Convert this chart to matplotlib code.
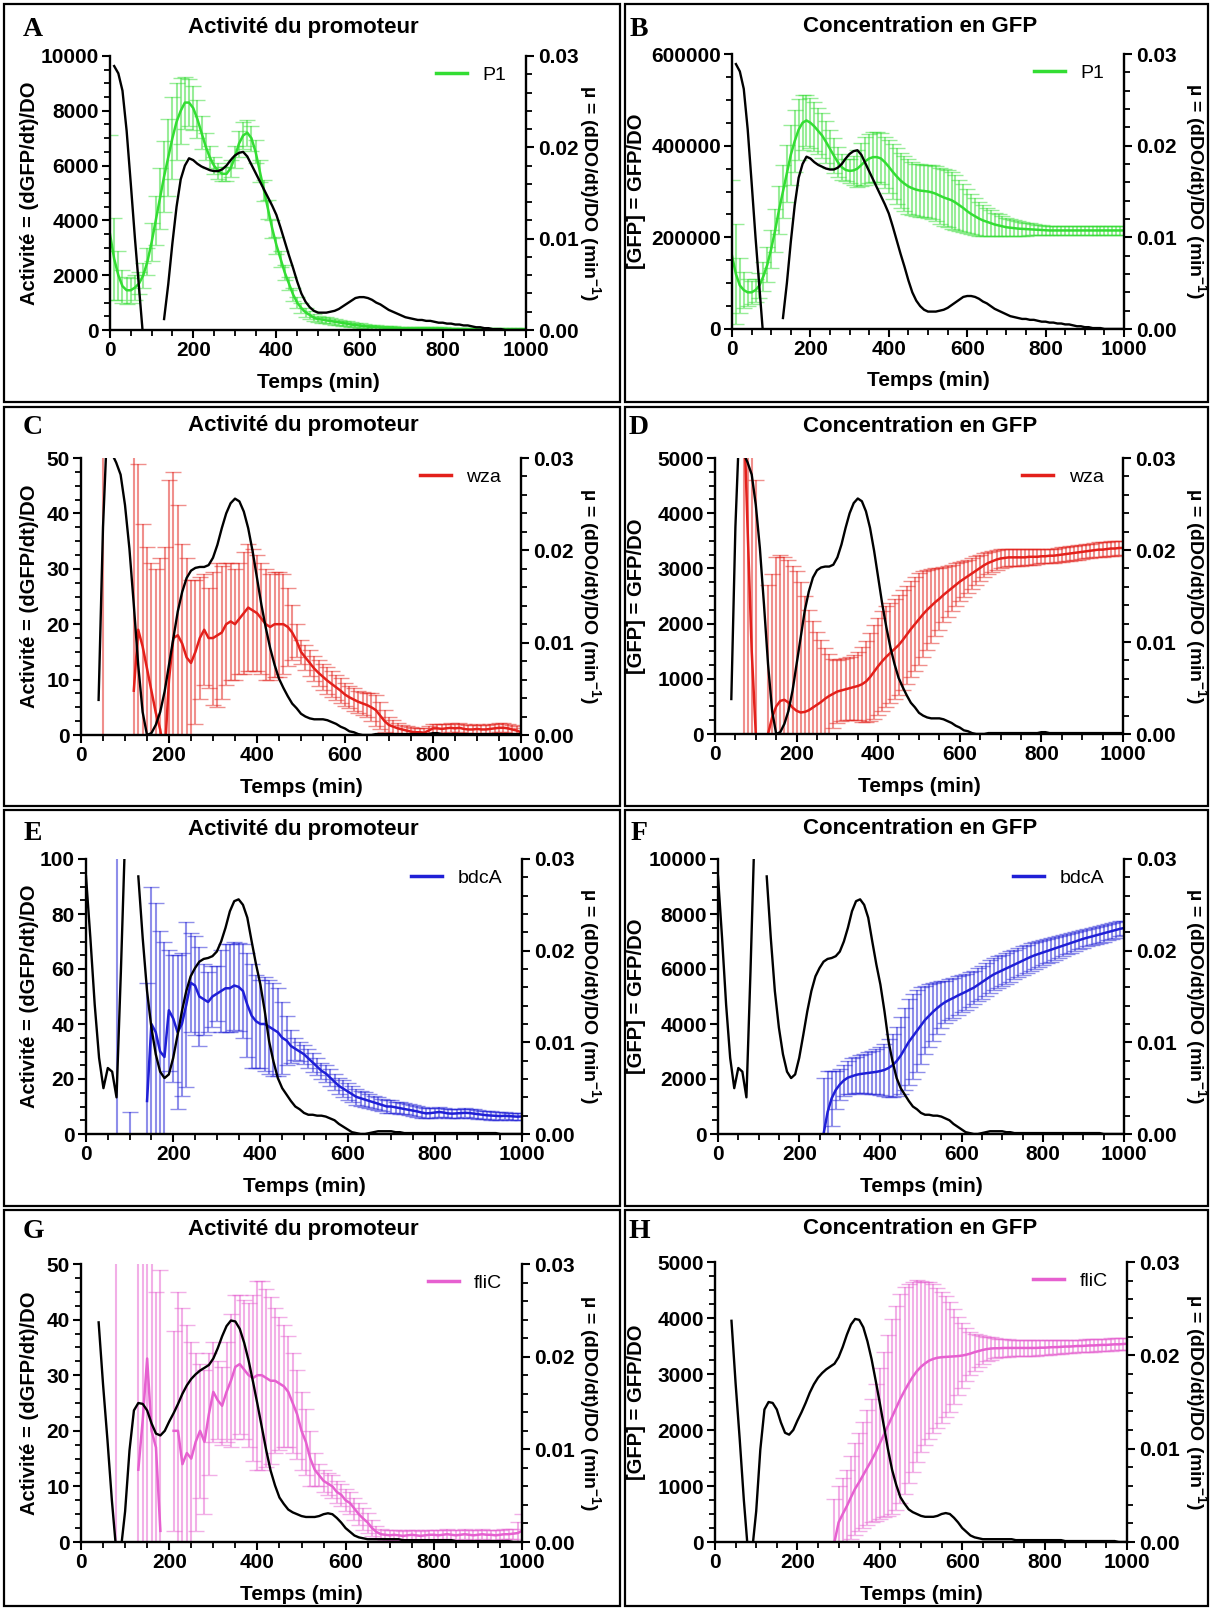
import numpy as np
import matplotlib
matplotlib.use('Agg')
import matplotlib.pyplot as plt
from matplotlib.lines import Line2D
from matplotlib.patches import Rectangle
from matplotlib.ticker import MultipleLocator, FuncFormatter
from matplotlib.colors import to_rgba

plt.rcParams['font.family'] = ['Liberation Sans', 'DejaVu Sans']
plt.rcParams['font.weight'] = 'bold'
plt.rcParams['mathtext.fontset'] = 'custom'
plt.rcParams['mathtext.rm'] = 'Liberation Sans:bold'
plt.rcParams['mathtext.bf'] = 'Liberation Sans:bold'

nan = np.nan
# time grid (min), one reading every 10 min
t = np.arange(0, 1010, 10)

# ---- P1 (panels A, B)
mu_p1 = [
    nan, 0.0289, 0.0281, 0.0262, 0.0218, 0.0160, 0.0100, 0.0045, -0.0010, nan,
    nan, nan, nan, 0.0012, 0.0050, 0.0095, 0.0135, 0.0165, 0.0180, 0.0188,
    0.0186, 0.0182, 0.0179, 0.0177, 0.0175, 0.0174, 0.0174, 0.0176, 0.0180, 0.0186,
    0.0191, 0.0194, 0.0195, 0.0190, 0.0181, 0.0172, 0.0163, 0.0154, 0.0145, 0.0136,
    0.0126, 0.0112, 0.0097, 0.0082, 0.0068, 0.0053, 0.0040, 0.0031, 0.0025, 0.0021,
    0.0019, 0.0019, 0.0019, 0.0020, 0.0021, 0.0023, 0.0026, 0.0029, 0.0032, 0.0035,
    0.0036, 0.0036, 0.0035, 0.0033, 0.0030, 0.0028, 0.0025, 0.0022, 0.0020, 0.0018,
    0.0016, 0.0014, 0.0013, 0.0012, 0.0011, 0.0011, 0.0010, 0.0010, 0.0009, 0.0008,
    0.0008, 0.0007, 0.0007, 0.0006, 0.0006, 0.0005, 0.0005, 0.0004, 0.0003, 0.0003,
    0.0002, 0.0002, 0.0001, 0.0001, 0.0001, 0.0, 0.0, 0.0, 0.0, 0.0,
    0.0]
act_p1 = [
    3500, 2600, 2000, 1600, 1450, 1450, 1550, 1700, 2000, 2500,
    3200, 4000, 4800, 5600, 6300, 7000, 7600, 8000, 8300, 8300,
    8100, 7700, 7200, 6700, 6300, 6000, 5800, 5700, 5700, 5900,
    6300, 6800, 7100, 7200, 7000, 6500, 5800, 5100, 4400, 3700,
    3100, 2600, 2100, 1700, 1300, 1000, 800, 650, 550, 450,
    400, 380, 350, 330, 300, 280, 250, 230, 200, 180,
    160, 140, 120, 110, 100, 90, 80, 75, 70, 65,
    60, 58, 55, 52, 50, 48, 46, 44, 42, 40,
    38, 36, 35, 34, 33, 32, 31, 30, 29, 28,
    27, 26, 25, 24, 23, 22, 21, 20, 20, 20,
    20]
act_p1_sd = [
    3600, 1500, 900, 600, 500, 450, 450, 400, 450, 500,
    700, 900, 1100, 1300, 1400, 1500, 1400, 1200, 950, 870,
    800, 700, 600, 500, 400, 320, 280, 250, 250, 300,
    400, 480, 500, 480, 450, 420, 400, 380, 350, 330,
    310, 290, 270, 250, 230, 210, 190, 170, 150, 130,
    120, 110, 110, 100, 100, 100, 95, 90, 90, 85,
    85, 80, 80, 75, 75, 70, 70, 65, 65, 60,
    60, 55, 55, 55, 55, 55, 55, 55, 55, 55,
    55, 55, 55, 55, 55, 55, 55, 55, 55, 55,
    55, 55, 55, 55, 55, 55, 55, 55, 55, 55,
    50]
gfp_p1 = [
    160000, 120000, 95000, 85000, 80000, 80000, 85000, 95000, 115000, 140000,
    175000, 215000, 260000, 300000, 340000, 380000, 410000, 435000, 450000, 455000,
    450000, 442000, 432000, 422000, 408000, 393000, 378000, 364000, 353000, 347000,
    345000, 346000, 350000, 358000, 366000, 372000, 375000, 375000, 372000, 364000,
    354000, 343000, 333000, 324000, 317000, 311000, 307000, 304000, 302000, 301000,
    300000, 298000, 295000, 291000, 287000, 284000, 281000, 276000, 270000, 264000,
    257000, 251000, 246000, 241000, 237000, 234000, 231000, 228000, 226000, 224000,
    222000, 221000, 220000, 219000, 218500, 218000, 217500, 217000, 216500, 216000,
    215500, 215000, 215000, 215000, 215000, 215000, 215000, 215000, 215000, 215000,
    215000, 215000, 215000, 215000, 215000, 215000, 215000, 215000, 215000, 215000,
    215000]
gfp_p1_sd = [
    165000, 110000, 60000, 40000, 30000, 25000, 25000, 28000, 32000, 38000,
    42000, 47000, 52000, 57000, 62000, 66000, 68000, 66000, 60000, 56000,
    54000, 53000, 51000, 49000, 46000, 42000, 38000, 33000, 28000, 25000,
    26000, 32000, 40000, 47000, 52000, 54000, 55000, 55000, 55000, 56000,
    58000, 60000, 61000, 61000, 60000, 59000, 58000, 57000, 57000, 57000,
    58000, 59000, 60000, 61000, 62000, 62000, 62000, 60000, 56000, 52000,
    48000, 44000, 40000, 37000, 34000, 31000, 28000, 26000, 24000, 22000,
    20000, 18000, 17000, 16000, 15000, 14000, 13000, 12000, 11500, 11000,
    10000, 10000, 10000, 10000, 10000, 10000, 10000, 10000, 10000, 10000,
    10000, 10000, 10000, 10000, 10000, 10000, 10000, 10000, 10000, 10000,
    10000]

# ---- wza (panels C, D)
mu_wza = [
    nan, nan, nan, nan, 0.0038, 0.0225, 0.0340, 0.0305, 0.0295, 0.0282,
    0.0249, 0.0202, 0.0141, 0.0076, 0.0025, 0.0000, 0.0002, 0.0011, 0.0025, 0.0047,
    0.0076, 0.0105, 0.0134, 0.0155, 0.0170, 0.0178, 0.0181, 0.0182, 0.0182, 0.0184,
    0.0192, 0.0206, 0.0224, 0.0240, 0.0251, 0.0256, 0.0253, 0.0242, 0.0224, 0.0199,
    0.0170, 0.0141, 0.0116, 0.0094, 0.0076, 0.0061, 0.0051, 0.0042, 0.0034, 0.0029,
    0.0023, 0.0020, 0.0018, 0.0017, 0.0017, 0.0017, 0.0016, 0.0014, 0.0012, 0.0009,
    0.0007, 0.0004, 0.0003, 0.0001, 0.0000, 0.0000, 0.0000, 0.0001, 0.0001, 0.0001,
    0.0001, 0.0001, 0.0001, 0.0001, 0.0001, 0.0001, 0.0001, 0.0001, 0.0001, 0.0001,
    0.0002, 0.0002, 0.0001, 0.0001, 0.0001, 0.0001, 0.0001, 0.0001, 0.0001, 0.0001,
    0.0001, 0.0001, 0.0001, 0.0001, 0.0001, 0.0001, 0.0001, 0.0001, 0.0001, 0.0001,
    0.0001]
act_wza = [
    nan, nan, nan, nan, nan, 30, nan, nan, nan, nan,
    nan, nan, 8, 19, 16, 12, 8, 4, 1, -4,
    10, 17.5, 18, 16.5, 14, 13, 15, 17.5, 19, 17.5,
    17.5, 18, 18.5, 20, 20.5, 20, 21, 22, 23, 22.5,
    22, 21, 20, 19.5, 20, 20, 20, 19.5, 18.5, 17,
    15, 14, 13, 12, 11.2, 10.5, 9.8, 9.2, 8.6, 8,
    7.3, 6.8, 6.4, 6, 5.7, 5.4, 5, 4.5, 3.5, 2.5,
    1.8, 1.5, 1.2, 1, 0.8, 0.6, 0.5, 0.5, 0.4, 0.8,
    1.2, 1.2, 1.1, 1.2, 1.3, 1.2, 1.3, 1.1, 1.0, 1.0,
    1.1, 1.0, 1.0, 1.1, 1.2, 1.3, 1.3, 1.2, 1.0, 0.8,
    0.5]
act_wza_sd = [
    nan, nan, nan, nan, nan, 40, nan, nan, nan, nan,
    nan, nan, 45, 30, 22, 22, 23, 26, 31, 38,
    36, 30, 23.5, 18, 18, 15, 13, 11, 10, 9,
    12, 13, 12, 11, 10.5, 10, 10, 11, 11.5, 11,
    10.5, 10, 10, 9.5, 9.5, 9.5, 9, 7, 5, 3,
    2.2, 2.2, 2.3, 2.3, 2.4, 2.4, 2.4, 2.4, 2.3, 2.2,
    2, 2, 2, 2, 2, 2.2, 2.5, 2.8, 2.5, 2,
    1.5, 1.2, 1, 0.8, 0.8, 0.8, 0.8, 0.8, 0.8, 0.8,
    0.8, 0.8, 0.8, 0.8, 0.8, 0.8, 0.8, 0.8, 0.8, 0.8,
    0.8, 0.8, 0.8, 0.8, 0.8, 0.8, 0.8, 0.8, 0.8, 0.8,
    0.8]
gfp_wza = [
    nan, nan, nan, nan, nan, nan, nan, 6000, 3700, 1500,
    0, nan, nan, 0, 300, 500, 600, 620, 570, 480,
    420, 390, 400, 430, 480, 530, 580, 640, 690, 730,
    770, 790, 810, 830, 850, 870, 900, 950, 1030, 1130,
    1230, 1320, 1400, 1470, 1540, 1610, 1700, 1800, 1900, 1990,
    2080, 2170, 2250, 2320, 2390, 2450, 2520, 2580, 2640, 2700,
    2760, 2810, 2860, 2910, 2960, 3010, 3060, 3100, 3130, 3160,
    3180, 3190, 3200, 3200, 3200, 3200, 3200, 3210, 3210, 3210,
    3220, 3220, 3230, 3230, 3240, 3250, 3260, 3270, 3280, 3290,
    3300, 3310, 3320, 3330, 3340, 3340, 3350, 3360, 3360, 3370,
    3370]
gfp_wza_sd = [
    nan, nan, nan, nan, nan, nan, nan, 6000, 5000, 4500,
    4600, nan, nan, 2700, 2600, 2700, 2650, 2580, 2580, 2570,
    2530, 2360, 2100, 1820, 1570, 1320, 1120, 910, 760, 620,
    570, 560, 560, 570, 590, 620, 680, 740, 800, 850,
    880, 900, 910, 910, 910, 900, 900, 890, 870, 850,
    830, 780, 720, 670, 620, 560, 500, 460, 420, 390,
    350, 320, 300, 280, 260, 240, 220, 200, 190, 180,
    170, 165, 160, 155, 150, 150, 145, 140, 140, 135,
    130, 130, 130, 130, 130, 130, 130, 130, 130, 130,
    130, 130, 130, 130, 130, 130, 130, 130, 130, 130,
    130]

# ---- bdcA (panels E, F)
mu_bdca = [
    0.0281, 0.0214, 0.0141, 0.0083, 0.0050, 0.0072, 0.0068, 0.0040, 0.0177, 0.0330,
    nan, nan, 0.0281, 0.0214, 0.0156, 0.0116, 0.0087, 0.0068, 0.0061, 0.0065,
    0.0083, 0.0108, 0.0134, 0.0156, 0.0172, 0.0181, 0.0188, 0.0191, 0.0192, 0.0194,
    0.0199, 0.0210, 0.0225, 0.0243, 0.0254, 0.0256, 0.0250, 0.0236, 0.0210, 0.0185,
    0.0163, 0.0134, 0.0101, 0.0079, 0.0061, 0.0050, 0.0043, 0.0036, 0.0030, 0.0027,
    0.0023, 0.0021, 0.0021, 0.0020, 0.0020, 0.0019, 0.0017, 0.0015, 0.0011, 0.0008,
    0.0005, 0.0002, 0.0001, 0.0000, 0.0000, 0.0001, 0.0002, 0.0003, 0.0003, 0.0003,
    0.0003, 0.0002, 0.0002, 0.0001, 0.0001, 0.0001, 0.0001, 0.0001, 0.0001, 0.0001,
    0.0001, 0.0001, 0.0001, 0.0001, 0.0001, 0.0001, 0.0001, 0.0001, 0.0001, 0.0001,
    0.0001, 0.0001, 0.0001, 0.0001, 0.0001, 0.0000, 0.0000, 0.0000, 0.0000, 0.0000,
    0.0000]
act_bdca = [
    nan, nan, nan, nan, nan, nan, nan, 50, nan, nan,
    -40, nan, nan, nan, 12, 40, 37, 30, 28, 45,
    42, 37, 40, 47, 55, 54, 50, 49, 48, 50,
    51, 52, 53, 53, 54, 53.5, 52, 47, 43, 41,
    40, 40, 39, 38, 37, 35, 34, 32, 31, 30,
    29, 27.5, 26, 24.5, 23, 22, 20.5, 19, 17.5, 16.5,
    15.5, 14.5, 13.5, 13, 12.5, 12, 11.5, 11, 10.5, 10,
    10, 9.7, 9.4, 9.1, 8.8, 8.5, 8.2, 7.8, 7.5, 7.6,
    7.8, 8, 7.8, 7.5, 7.4, 7.5, 7.6, 7.7, 7.6, 7.4,
    7.2, 7, 6.8, 6.7, 6.6, 6.5, 6.6, 6.5, 6.4, 6.3,
    6.4]
act_bdca_sd = [
    nan, nan, nan, nan, nan, nan, nan, 80, nan, nan,
    48, nan, nan, nan, 43, 50, 47, 44, 42, 22,
    23, 28, 26, 30, 18, 18, 18, 13, 11, 11,
    10, 15, 16, 16, 16, 16, 17, 19, 19, 17,
    16, 17, 17, 17, 16, 13, 9, 6, 4, 3.5,
    3.5, 3.5, 3.5, 3, 3, 3, 3, 3, 3, 3,
    3, 2.8, 2.8, 2.7, 2.6, 2.5, 2.5, 2.4, 2.3, 2.2,
    2.2, 2.1, 2.1, 2, 2, 2, 1.9, 1.9, 1.8, 1.8,
    1.8, 1.8, 1.7, 1.7, 1.7, 1.6, 1.6, 1.6, 1.6, 1.6,
    1.6, 1.5, 1.5, 1.5, 1.4, 1.4, 1.3, 1.3, 1.3, 1.2,
    1.2]
gfp_bdca = [
    nan, nan, nan, nan, nan, nan, nan, nan, nan, nan,
    nan, nan, nan, nan, nan, nan, nan, nan, nan, nan,
    nan, nan, nan, nan, nan, nan, 0, 800, 1300, 1600,
    1800, 1950, 2050, 2100, 2150, 2180, 2200, 2220, 2240, 2260,
    2290, 2330, 2400, 2500, 2650, 2850, 3100, 3350, 3550, 3750,
    3950, 4150, 4300, 4450, 4580, 4700, 4800, 4880, 4950, 5030,
    5100, 5170, 5250, 5320, 5420, 5520, 5620, 5720, 5810, 5880,
    5950, 6020, 6090, 6160, 6230, 6300, 6370, 6440, 6500, 6550,
    6600, 6650, 6700, 6750, 6800, 6850, 6900, 6950, 7000, 7050,
    7100, 7140, 7180, 7220, 7260, 7300, 7340, 7380, 7420, 7460,
    7490]
gfp_bdca_sd = [
    nan, nan, nan, nan, nan, nan, nan, nan, nan, nan,
    nan, nan, nan, nan, nan, nan, nan, nan, nan, nan,
    nan, nan, nan, nan, nan, nan, 2050, 1500, 1000, 700,
    550, 550, 600, 650, 650, 700, 720, 750, 780, 820,
    880, 950, 1050, 1150, 1250, 1400, 1500, 1550, 1550, 1500,
    1400, 1250, 1150, 1050, 950, 850, 780, 740, 720, 700,
    680, 650, 630, 600, 600, 600, 600, 600, 590, 580,
    570, 560, 550, 540, 530, 520, 510, 500, 490, 480,
    450, 440, 430, 420, 410, 380, 370, 360, 350, 340,
    330, 320, 310, 305, 300, 300, 290, 285, 280, 275,
    270]

# ---- fliC (panels G, H)
mu_flic = [
    nan, nan, nan, nan, 0.0237, 0.0170, 0.0110, 0.0045, -0.0010, -0.0010,
    0.0033, 0.0099, 0.0142, 0.0150, 0.0149, 0.0142, 0.0128, 0.0117, 0.0115, 0.0120,
    0.0130, 0.0139, 0.0149, 0.0160, 0.0169, 0.0176, 0.0181, 0.0185, 0.0188, 0.0191,
    0.0198, 0.0209, 0.0222, 0.0233, 0.0239, 0.0238, 0.0230, 0.0215, 0.0196, 0.0173,
    0.0149, 0.0124, 0.0099, 0.0077, 0.0061, 0.0048, 0.0041, 0.0035, 0.0032, 0.0030,
    0.0028, 0.0027, 0.0027, 0.0027, 0.0028, 0.0030, 0.0031, 0.0030, 0.0026, 0.0021,
    0.0015, 0.0011, 0.0007, 0.0005, 0.0004, 0.0003, 0.0003, 0.0003, 0.0003, 0.0003,
    0.0003, 0.0003, 0.0003, 0.0002, 0.0002, 0.0002, 0.0002, 0.0002, 0.0002, 0.0002,
    0.0002, 0.0002, 0.0002, 0.0002, 0.0002, 0.0001, 0.0001, 0.0001, 0.0001, 0.0001,
    0.0001, 0.0001, 0.0001, 0.0001, 0.0001, 0.0001, 0.0001, 0.0001, 0.0000, 0.0000,
    0.0000]
act_flic = [
    nan, nan, nan, nan, nan, nan, nan, nan, 17, nan,
    nan, nan, nan, 13, 22, 33, 20, 17, 2, nan,
    nan, 20, 20, 14, 16, 15, 18, 20, 18, 23,
    27, 25.5, 24.5, 27, 29, 31.5, 32, 31, 30, 29.5,
    30, 30, 29.5, 29, 29, 28.5, 28, 27, 25, 23,
    20, 18, 15, 13, 12, 11, 10.5, 10, 9, 8.5,
    7.5, 7, 6, 5, 4.2, 3.5, 2.5, 1.8, 1.4, 1.3,
    1.2, 1.3, 1.2, 1.1, 1.2, 1.3, 1.2, 1.1, 1.2, 1.3,
    1.3, 1.2, 1.3, 1.4, 1.3, 1.2, 1.3, 1.4, 1.3, 1.2,
    1.3, 1.4, 1.3, 1.3, 1.2, 1.3, 1.4, 1.4, 1.5, 1.6,
    2.0]
act_flic_sd = [
    nan, nan, nan, nan, nan, nan, nan, nan, 40, nan,
    nan, nan, nan, 45, 40, 35, 35, 28, 47, nan,
    nan, 18, 25, 28, 23, 21, 16, 12, 13, 11,
    9, 7, 7, 9, 12, 13, 12.5, 12.5, 13, 15,
    17, 17, 16, 15, 13, 12, 11, 10, 9, 8,
    7, 6, 5, 3, 2, 2, 2, 2, 2, 2,
    2, 2, 2, 2, 2, 1.8, 1.5, 1.1, 0.9, 0.9,
    0.9, 0.9, 0.9, 0.9, 0.9, 0.9, 0.9, 0.9, 0.9, 0.9,
    0.9, 0.9, 0.9, 0.9, 0.9, 0.9, 0.9, 0.9, 0.9, 0.9,
    0.9, 0.9, 0.9, 0.9, 0.9, 0.9, 0.9, 0.9, 0.9, 2,
    3]
gfp_flic = [
    nan, nan, nan, nan, nan, nan, nan, nan, nan, nan,
    nan, nan, nan, nan, nan, nan, nan, nan, nan, nan,
    nan, nan, nan, nan, nan, nan, nan, nan, nan, 0,
    350, 500, 640, 800, 950, 1070, 1200, 1330, 1460, 1600,
    1760, 1920, 2080, 2240, 2400, 2560, 2700, 2830, 2950, 3050,
    3130, 3190, 3240, 3270, 3290, 3300, 3305, 3310, 3315, 3320,
    3330, 3345, 3365, 3390, 3410, 3430, 3445, 3455, 3460, 3460,
    3465, 3465, 3465, 3465, 3465, 3465, 3465, 3465, 3465, 3470,
    3470, 3475, 3480, 3480, 3485, 3490, 3490, 3495, 3500, 3500,
    3505, 3510, 3510, 3515, 3520, 3520, 3525, 3530, 3530, 3535,
    3540]
gfp_flic_sd = [
    nan, nan, nan, nan, nan, nan, nan, nan, nan, nan,
    nan, nan, nan, nan, nan, nan, nan, nan, nan, nan,
    nan, nan, nan, nan, nan, nan, nan, nan, nan, 770,
    650, 650, 640, 740, 820, 880, 950, 1030, 1100, 1220,
    1350, 1480, 1620, 1740, 1820, 1860, 1850, 1780, 1700, 1620,
    1530, 1460, 1400, 1330, 1250, 1170, 1080, 980, 850, 700,
    580, 470, 390, 330, 290, 250, 220, 200, 180, 165,
    160, 155, 150, 150, 145, 145, 140, 140, 135, 135,
    130, 130, 130, 125, 125, 120, 120, 120, 115, 115,
    115, 115, 110, 110, 110, 110, 110, 110, 110, 110,
    110]

green = '#33dd33'
red = '#e3201b'
blue = '#1f1fd6'
pink = '#e660d0'

title_act = 'Activité du promoteur'
title_gfp = 'Concentration en GFP'
ylab_act = 'Activité = (dGFP/dt)/DO'
ylab_gfp = '[GFP] = GFP/DO'
ylab_mu = r'µ = (dDO/dt)/DO (min$^{-1}$)'

W, H = 1212, 1609
fig = plt.figure(figsize=(W / 100, H / 100), dpi=100)

# panel frames (pixels)
cols = [(4, 620), (625, 1208)]
rows = [(4, 402), (407, 806), (810, 1206), (1210, 1606)]
for cx0, cx1 in cols:
    for ry0, ry1 in rows:
        fig.patches.append(Rectangle((cx0 / W, 1 - ry1 / H), (cx1 - cx0) / W, (ry1 - ry0) / H,
                                     transform=fig.transFigure, fill=False, lw=1.6, ec='black'))


def panel(letter, title, ylabel, mean, sd, mu, color, name, ymax, ystep, box, col, row):
    x0, x1, ytop, y0 = box
    ax = fig.add_axes([x0 / W, 1 - y0 / H, (x1 - x0) / W, (y0 - ytop) / H])
    line, caps, bars = ax.errorbar(t, mean, yerr=sd, color=color, lw=1.8,
                                   ecolor=to_rgba(color, 0.5), elinewidth=1.5,
                                   capsize=6, capthick=1.0)
    for c in caps:
        c.set_color(to_rgba(color, 0.9))
    ax.set_xlim(0, 1000)
    ax.set_ylim(0, ymax)
    ax.xaxis.set_major_locator(MultipleLocator(200))
    ax.xaxis.set_minor_locator(MultipleLocator(50))
    ax.yaxis.set_major_locator(MultipleLocator(ystep))
    ax.yaxis.set_minor_locator(MultipleLocator(ystep / 4))
    ax.yaxis.set_major_formatter(FuncFormatter(lambda v, p: f'{v:.0f}'))
    ax.tick_params(which='major', length=6, width=1.5, labelsize=15, pad=2)
    ax.tick_params(which='minor', length=4, width=1.3)
    for s in ['top', 'right']:
        ax.spines[s].set_visible(False)
    for s in ['left', 'bottom']:
        ax.spines[s].set_linewidth(1.7)

    ax2 = ax.twinx()
    ax2.plot(t, mu, color='black', lw=1.7)
    ax2.set_ylim(0, 0.03)
    ax2.yaxis.set_major_locator(MultipleLocator(0.01))
    ax2.yaxis.set_minor_locator(MultipleLocator(0.002))
    ax2.yaxis.set_major_formatter(FuncFormatter(lambda v, p: f'{v:.2f}'))
    ax2.tick_params(which='major', length=6, width=1.5, labelsize=15, pad=3)
    ax2.tick_params(which='minor', length=4, width=1.3)
    for s in ['top', 'left', 'bottom']:
        ax2.spines[s].set_visible(False)
    ax2.spines['right'].set_linewidth(1.7)

    handle = Line2D([], [], color=color, lw=2.5)
    ax2.legend([handle], [name], loc='upper right', bbox_to_anchor=(0.995, 1.025),
               frameon=False, handlelength=1.6, handletextpad=0.8,
               prop={'weight': 'normal', 'size': 14})

    xc = (x0 + x1) / 2
    yc = (ytop + y0) / 2
    off = 0 if col == 0 else 606
    fig.text(xc / W, 1 - (y0 + 52) / H, 'Temps (min)', ha='center', va='center', fontsize=15)
    fig.text((30 + off) / W, 1 - yc / H, ylabel, rotation=90, ha='center', va='center', fontsize=14.5)
    fig.text((589 + off) / W, 1 - yc / H, ylab_mu, rotation=270, ha='center', va='center', fontsize=14)
    ty = [27, 426, 829, 1229][row]
    tx = 303 if col == 0 else 920
    fig.text(tx / W, 1 - ty / H, title, ha='center', va='center', fontsize=16)
    ly = [29, 428, 833, 1232][row]
    fig.text((33 + off) / W, 1 - ly / H, letter, ha='center', va='center', fontsize=20,
             family='Liberation Serif', weight='bold')


panel('A', title_act, ylab_act, act_p1, act_p1_sd, mu_p1, green, 'P1', 10000, 2000, (110, 526, 56, 330), 0, 0)
panel('B', title_gfp, ylab_gfp, gfp_p1, gfp_p1_sd, mu_p1, green, 'P1', 600000, 200000, (732, 1124, 54, 329), 1, 0)
panel('C', title_act, ylab_act, act_wza, act_wza_sd, mu_wza, red, 'wza', 50, 10, (81, 521, 458, 735), 0, 1)
panel('D', title_gfp, ylab_gfp, gfp_wza, gfp_wza_sd, mu_wza, red, 'wza', 5000, 1000, (715, 1123, 458, 734), 1, 1)
panel('E', title_act, ylab_act, act_bdca, act_bdca_sd, mu_bdca, blue, 'bdcA', 100, 20, (86, 522, 859, 1134), 0, 2)
panel('F', title_gfp, ylab_gfp, gfp_bdca, gfp_bdca_sd, mu_bdca, blue, 'bdcA', 10000, 2000, (718, 1124, 859, 1134), 1, 2)
panel('G', title_act, ylab_act, act_flic, act_flic_sd, mu_flic, pink, 'fliC', 50, 10, (81, 522, 1264, 1542), 0, 3)
panel('H', title_gfp, ylab_gfp, gfp_flic, gfp_flic_sd, mu_flic, pink, 'fliC', 5000, 1000, (715, 1127, 1262, 1542), 1, 3)

fig.savefig('out.png', dpi=100)
